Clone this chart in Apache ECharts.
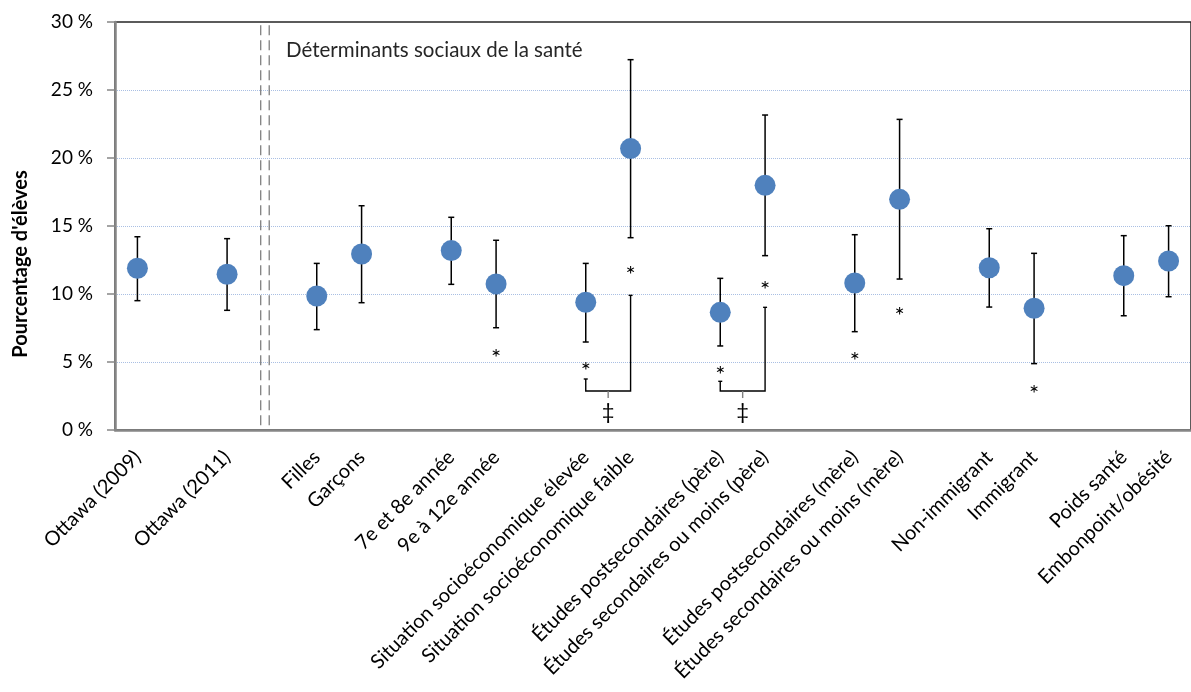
<!DOCTYPE html>
<html>
<head>
<meta charset="utf-8">
<script src="https://cdn.jsdelivr.net/npm/echarts@6/dist/echarts.min.js"></script>
<style>
html,body{margin:0;padding:0;background:#fff;}
#chart{width:1191px;height:692px;}
</style>
</head>
<body>
<div id="chart"></div>
<script>
// ---- data ----
const categories = ['Ottawa (2009)', '', 'Ottawa (2011)', '', 'Filles', 'Garçons', '',
  '7e et 8e année', '9e à 12e année', '',
  'Situation socioéconomique élevée', 'Situation socioéconomique faible', '',
  'Études postsecondaires (père)', 'Études secondaires ou moins (père)', '',
  'Études postsecondaires (mère)', 'Études secondaires ou moins (mère)', '',
  'Non-immigrant', 'Immigrant', '', 'Poids santé', 'Embonpoint/obésité'];
const estimate = [11.89, null, 11.45, null, 9.85, 12.94, null, 13.19, 10.74, null, 9.39, 20.69, null, 8.65, 17.99, null, 10.81, 16.96, null, 11.93, 8.95, null, 11.35, 12.43];
const lower    = [9.51, null, 8.80, null, 7.38, 9.36, null, 10.71, 7.52, null, 6.47, 14.14, null, 6.18, 12.82, null, 7.23, 11.10, null, 9.04, 4.88, null, 8.40, 9.80];
const upper    = [14.21, null, 14.07, null, 12.25, 16.49, null, 15.64, 13.95, null, 12.25, 27.23, null, 11.15, 23.16, null, 14.36, 22.84, null, 14.80, 12.99, null, 14.29, 15.02];
const starLevel = [null, null, null, null, null, null, null, null, 5.76, null, 4.78, 11.86, null, 4.49, 10.76, null, 5.51, 8.82, null, null, 3.11, null, null, null];
// brackets: [fromIndex, toIndex, leftTop, rightTop, base, tickBottom, symbolLevel]
const brackets = [
  [10, 11, 3.75, 9.9, 2.87, 2.35, 1.3],
  [13, 14, 3.58, 9.02, 2.87, 2.35, 1.3]
];
const dividers = [2.75, 2.94];
const yMin = 0, yMax = 30, yStep = 5;
const sectionTitle = 'Déterminants sociaux de la santé';
const yTitle = "Pourcentage d'élèves";

const FONT = 'Lato, "Open Sans", sans-serif';
const chart = echarts.init(document.getElementById('chart'));

const barData = categories.map((c, i) => estimate[i] == null ? null : [i, lower[i], upper[i]]).filter(Boolean);
const pointData = categories.map((c, i) => estimate[i] == null ? null : [i, estimate[i]]).filter(Boolean);
const starData = categories.map((c, i) => starLevel[i] == null ? null : [i, starLevel[i]]).filter(Boolean);

const STAR_FS = 24;
const series = [];
dividers.forEach(d => {
  series.push({
    type: 'line', xAxisIndex: 1, yAxisIndex: 0, silent: true, symbol: 'none',
    data: [[d, 0.35], [d, yMax]],
    lineStyle: {color: '#7F7F7F', width: 1.3, type: [10, 5]}, z: 2
  });
});
series.push({
  type: 'custom', xAxisIndex: 0, yAxisIndex: 0, silent: true,
  data: barData, encode: {x: 0, y: [1, 2]}, z: 3,
  renderItem: function (params, api) {
    const x = api.value(0);
    const lo = api.coord([x, api.value(1)]);
    const hi = api.coord([x, api.value(2)]);
    const hw = 3;
    const st = {stroke: '#000', lineWidth: 1.5};
    return {type: 'group', children: [
      {type: 'line', shape: {x1: lo[0], y1: lo[1], x2: hi[0], y2: hi[1]}, style: st},
      {type: 'line', shape: {x1: lo[0] - hw, y1: lo[1], x2: lo[0] + hw, y2: lo[1]}, style: st},
      {type: 'line', shape: {x1: hi[0] - hw, y1: hi[1], x2: hi[0] + hw, y2: hi[1]}, style: st}
    ]};
  }
});
series.push({
  type: 'scatter', xAxisIndex: 0, yAxisIndex: 0, silent: true,
  data: pointData, symbol: 'circle', symbolSize: 21,
  itemStyle: {color: '#4F81BD', opacity: 1}, z: 5
});
series.push({
  type: 'custom', xAxisIndex: 0, yAxisIndex: 0, silent: true,
  data: starData, encode: {x: 0, y: 1}, z: 6,
  renderItem: function (params, api) {
    const p = api.coord([api.value(0), api.value(1)]);
    return {type: 'text', x: p[0], y: p[1] + 0.27 * STAR_FS, style: {text: '*', font: STAR_FS + 'px ' + FONT, fill: '#000', align: 'center', verticalAlign: 'middle'}};
  }
});
series.push({
  type: 'custom', xAxisIndex: 1, yAxisIndex: 0, silent: true,
  data: brackets, z: 6,
  renderItem: function (params, api) {
    const a = api.value(0), b = api.value(1);
    const lt = api.coord([a, api.value(2)]);
    const rt = api.coord([b, api.value(3)]);
    const lb = api.coord([a, api.value(4)]);
    const rb = api.coord([b, api.value(4)]);
    const mid = (a + b) / 2;
    const mt = api.coord([mid, api.value(4)]);
    const mb = api.coord([mid, api.value(5)]);
    const sym = api.coord([mid, api.value(6)]);
    const st = {stroke: '#000', fill: null, lineWidth: 1.4};
    const cw = 2;
    return {type: 'group', children: [
      {type: 'polyline', shape: {points: [lt, lb, rb, rt]}, style: st},
      {type: 'line', shape: {x1: lt[0] - cw, y1: lt[1], x2: lt[0] + cw, y2: lt[1]}, style: st},
      {type: 'line', shape: {x1: rt[0] - cw, y1: rt[1], x2: rt[0] + cw, y2: rt[1]}, style: st},
      {type: 'line', shape: {x1: mt[0], y1: mt[1], x2: mb[0], y2: mb[1]}, style: {stroke: '#808080', lineWidth: 1.4}},
      {type: 'text', x: sym[0], y: sym[1], style: {text: '‡', font: '22px ' + FONT, fill: '#000', align: 'center', verticalAlign: 'middle'}}
    ]};
  }
});

chart.setOption({
  animation: false,
  backgroundColor: '#fff',
  title: {
    text: sectionTitle, left: 286, top: 40, padding: 0,
    textStyle: {fontFamily: FONT, fontSize: 20.5, fontWeight: 'normal', color: '#262626'}
  },
  graphic: [{
    type: 'text', x: 21, y: 264, rotation: Math.PI / 2, silent: true,
    style: {text: yTitle, font: 'bold 20px ' + FONT, fill: '#000', align: 'center', verticalAlign: 'middle'}
  }],
  grid: {left: 115, top: 22, width: 1085, height: 408, show: true, borderColor: '#262626', borderWidth: 1.5, backgroundColor: 'transparent'},
  xAxis: [{
    type: 'category', data: categories, boundaryGap: true,
    axisLine: {show: true, onZero: false, lineStyle: {color: '#868686', width: 2.5}},
    axisTick: {show: false},
    axisLabel: {interval: 0, rotate: 45, margin: 24, fontFamily: FONT, fontSize: 20, color: '#000'},
    splitLine: {show: false}
  }, {
    type: 'value', min: -0.5, max: 23.5, show: false, gridIndex: 0,
    axisLine: {onZero: false}
  }],
  yAxis: {
    type: 'value', min: yMin, max: yMax, interval: yStep,
    axisLine: {show: true, onZero: false, lineStyle: {color: '#868686', width: 2.5}},
    axisTick: {show: true, length: 8, lineStyle: {color: '#868686', width: 1.5}},
    axisLabel: {formatter: v => v + ' %', margin: 22, fontFamily: FONT, fontSize: 19, color: '#000'},
    splitLine: {show: true, showMaxLine: false, lineStyle: {color: '#A9BFE3', type: 'dotted', width: 1}}
  },
  series: series
});
</script>
</body>
</html>
